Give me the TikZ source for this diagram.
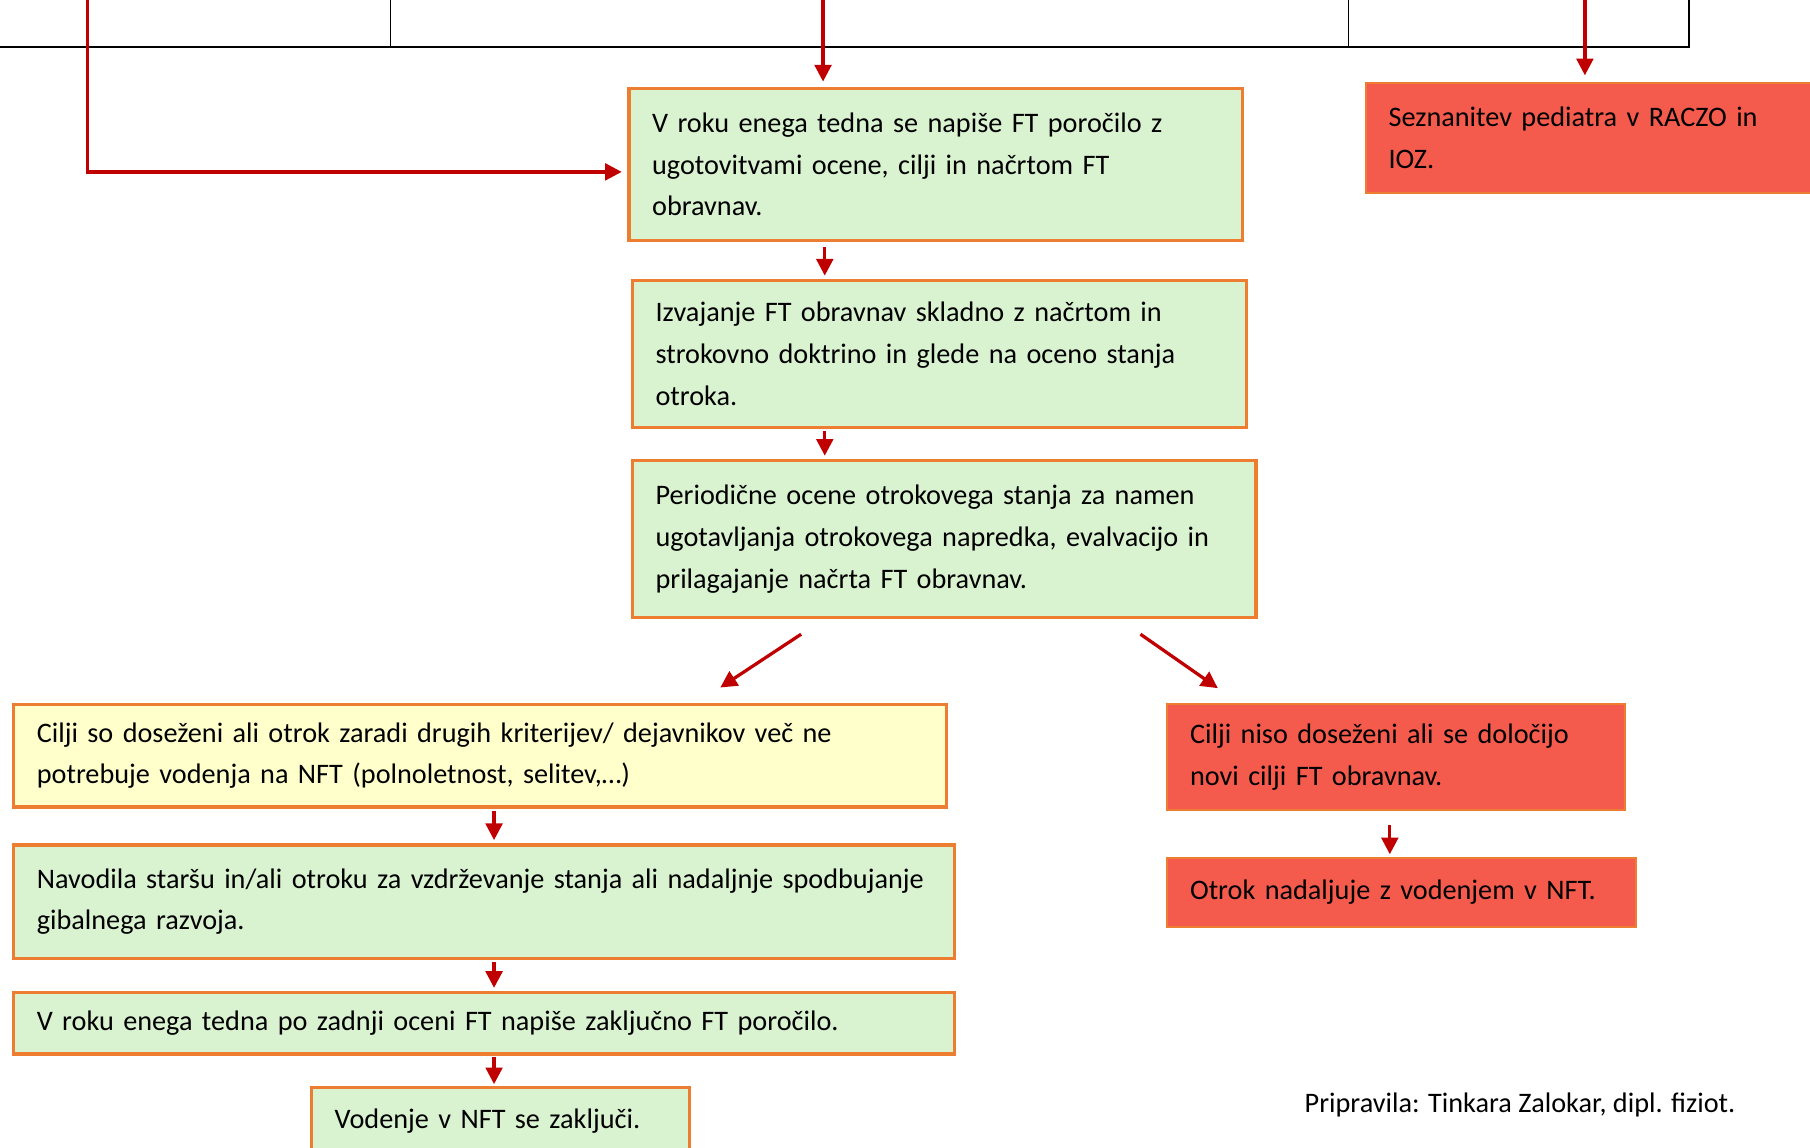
\documentclass[tikz,border=0pt]{standalone}
\usepackage{fontspec}
\setmainfont{Carlito}
\usetikzlibrary{arrows.meta}

\definecolor{boxgreen}{HTML}{D9F2D0}
\definecolor{boxyellow}{HTML}{FFFFCC}
\definecolor{boxred}{HTML}{F45B4C}
\definecolor{boxorange}{HTML}{ED7D31}
\definecolor{arrowred}{HTML}{C00000}
\newcommand{\boxfont}{\fontsize{17.4}{25.6}\selectfont}

\begin{document}
\begin{tikzpicture}[x=0.025cm, y=-0.025cm,
    flowbox/.style={draw=boxorange, line width=2pt, inner xsep=0.5cm, inner ysep=0pt, align=left, font=\boxfont},
    greenbox/.style={flowbox, fill=boxgreen},
    yellowbox/.style={flowbox, fill=boxyellow},
    redbox/.style={flowbox, fill=boxred, line width=1.2pt},
    redarrow/.style={draw=arrowred, line width=2pt, -{Triangle[width=0.36cm,length=0.36cm]}}]
            \useasboundingbox (0,0) rectangle (1568,994);
            \clip (0,0) rectangle (1568,994);

            % Table (cut off at the top)
            \draw[line width=1.2pt] (0,41) -- (1463,41) -- (1463,0);
            \draw[line width=0.6pt] (338,0) -- (338,41);
            \draw[line width=0.6pt] (1168,0) -- (1168,41);

            % Define nodes
            \node[greenbox, text width=12.275cm, minimum height=3.275cm] (A) at (810.5,142.5)
                {V roku enega tedna se napiše FT poročilo z\\ ugotovitvami ocene, cilji in načrtom FT\\ obravnav.};
            \node[redbox, text width=9.425cm, minimum height=2.375cm] (S) at (1391.5,119.5)
                {Seznanitev pediatra v RACZO in\\ IOZ.};
            \node[greenbox, text width=12.3cm, minimum height=3.175cm] (B) at (814,306.5)
                {Izvajanje FT obravnav skladno z načrtom in\\ strokovno doktrino in glede na oceno stanja\\ otroka.};
            \node[greenbox, text width=12.5cm, minimum height=3.4cm] (C) at (818,467)
                {Periodične ocene otrokovega stanja za namen\\ ugotavljanja otrokovega napredka, evalvacijo in\\ prilagajanje načrta FT obravnav.};
            \node[yellowbox, text width=19.2cm, minimum height=2.225cm] (D) at (416,654.5)
                {Cilji so doseženi ali otrok zaradi drugih kriterijev/ dejavnikov več ne\\ potrebuje vodenja na NFT (polnoletnost, selitev,…)};
            \node[greenbox, text width=19.375cm, minimum height=2.45cm] (E) at (419.5,781)
                {Navodila staršu in/ali otroku za vzdrževanje stanja ali nadaljnje spodbujanje\\ gibalnega razvoja.};
            \node[greenbox, text width=19.375cm, minimum height=1.325cm] (F) at (419.5,886.5)
                {V roku enega tedna po zadnji oceni FT napiše zaključno FT poročilo.};
            \node[greenbox, text width=7.175cm, minimum height=1.45cm] (G) at (433.5,971)
                {Vodenje v NFT se zaključi.};
            \node[redbox, text width=8.925cm, minimum height=2.3cm] (H) at (1209.5,656)
                {Cilji niso doseženi ali se določijo\\ novi cilji FT obravnav.};
            \node[redbox, text width=9.15cm, minimum height=1.5cm] (I) at (1214,773)
                {Otrok nadaljuje z vodenjem v NFT.};
            \node[anchor=west, font=\boxfont, inner sep=0pt] (author) at (1130,957)
                {Pripravila: Tinkara Zalokar, dipl. fiziot.};

            \coordinate (t1) at (76,0);
            \coordinate (t2) at (713,0);
            \coordinate (t3) at (1373,0);
            \coordinate (colL) at (428,0);
            \coordinate (colM) at (714.5,0);
            \coordinate (colR) at (1204,0);

            % Draw edges
            \draw[redarrow, shorten >=3.5pt] (t1) |- ([yshift=-0.16cm]A.west);
            \draw[redarrow, shorten >=3.5pt] (t2) -- (t2 |- A.north);
            \draw[redarrow, shorten >=4.2pt] (t3) -- (t3 |- S.north);
            \draw[redarrow, shorten <=3.5pt, shorten >=2pt] (A.south -| colM) -- (B.north -| colM);
            \draw[redarrow, shorten <=1.5pt, shorten >=2pt] (B.south -| colM) -- (C.north -| colM);
            \draw[redarrow] ([shift={(-124,13)}]C.south) -- ([shift={(208,-13)}]D.north);
            \draw[redarrow] ([shift={(170,13)}]C.south) -- ([shift={(-154.5,-13)}]H.north);
            \draw[redarrow, shorten <=1.5pt, shorten >=2pt] (D.south -| colL) -- (E.north -| colL);
            \draw[redarrow, shorten <=1.5pt, shorten >=2pt] (E.south -| colL) -- (F.north -| colL);
            \draw[redarrow, shorten <=1pt, shorten >=1pt] (F.south -| colL) -- (G.north -| colL);
            \draw[redarrow, shorten <=8.5pt, shorten >=1.5pt] (H.south -| colR) -- (I.north -| colR);

        \end{tikzpicture}
\end{document}
